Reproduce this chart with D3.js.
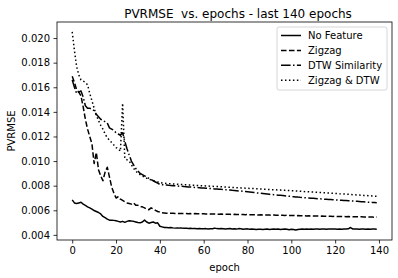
<!DOCTYPE html>
<html>
<head>
<meta charset="utf-8">
<script src="https://cdn.jsdelivr.net/npm/d3@7"></script>
<style>
  body { margin: 0; background: #fff; }
  text { font-family: "DejaVu Sans", sans-serif; fill: #000; }
</style>
</head>
<body>
<div id="chart"></div>
<script>
// values, one per epoch (0..139)
var noFeature = [
	0.00685, 0.0066, 0.00655, 0.0066, 0.00665, 0.0065, 0.0064, 0.00628, 0.0062, 0.0061,
	0.00598, 0.0059, 0.00582, 0.0057, 0.0055, 0.0054, 0.00528, 0.0052, 0.0052, 0.00518,
	0.00515, 0.0051, 0.00505, 0.0051, 0.00502, 0.0051, 0.00515, 0.00512, 0.0051, 0.00505,
	0.005, 0.00498, 0.00505, 0.0052, 0.00505, 0.00495, 0.005, 0.00505, 0.00495, 0.00498,
	0.0047, 0.00465, 0.0046, 0.0046, 0.00458, 0.0046, 0.00457, 0.00455, 0.00457, 0.00455,
	0.00455, 0.00453, 0.00455, 0.00452, 0.00454, 0.00451, 0.00452, 0.0045, 0.00452, 0.0045,
	0.00449, 0.00451, 0.00448, 0.0045, 0.0045, 0.00455, 0.00451, 0.00449, 0.00452, 0.0045,
	0.00447, 0.0045, 0.00452, 0.00448, 0.0045, 0.00447, 0.00451, 0.00449, 0.00446, 0.00448,
	0.00449, 0.00445, 0.00447, 0.00446, 0.00444, 0.00446, 0.00445, 0.00443, 0.00445, 0.00447,
	0.00444, 0.00446, 0.00448, 0.00445, 0.00447, 0.00444, 0.00446, 0.00448, 0.00445, 0.00442,
	0.00446, 0.00444, 0.00439, 0.00444, 0.00446, 0.00447, 0.00446, 0.00448, 0.00446, 0.00447,
	0.00446, 0.00447, 0.00448, 0.00446, 0.00447, 0.00448, 0.00446, 0.00447, 0.00448, 0.00447,
	0.00448, 0.00446, 0.00447, 0.00446, 0.00447, 0.00448, 0.00449, 0.0046, 0.00448, 0.00447,
	0.00447, 0.00446, 0.00447, 0.00448, 0.00446, 0.00447, 0.00446, 0.00447, 0.00447, 0.00446
];
var zigzag = [
	0.0169, 0.0164, 0.0158, 0.0156, 0.0153, 0.0144, 0.0134, 0.0126, 0.012, 0.0114,
	0.0098, 0.0107, 0.0093, 0.0088, 0.0084, 0.0091, 0.0095, 0.0087, 0.0079, 0.0074,
	0.007, 0.0071, 0.0069, 0.0068, 0.0067, 0.0066, 0.00655, 0.0065, 0.0066, 0.0064,
	0.0064, 0.0063, 0.00628, 0.0062, 0.0061, 0.00605, 0.0062, 0.0061, 0.006, 0.0059,
	0.00585, 0.0058, 0.00578, 0.00576, 0.00575, 0.00576, 0.00575, 0.00574, 0.00575, 0.00574,
	0.00573, 0.00574, 0.00573, 0.00572, 0.00573, 0.00572, 0.00573, 0.00572, 0.00571, 0.00572,
	0.00571, 0.0057, 0.00571, 0.0057, 0.00569, 0.0057, 0.00569, 0.00568, 0.00569, 0.00568,
	0.00567, 0.00568, 0.00567, 0.00566, 0.00567, 0.00566, 0.00565, 0.00566, 0.00565, 0.00564,
	0.00565, 0.00564, 0.00563, 0.00564, 0.00563, 0.00562, 0.00563, 0.00562, 0.00561, 0.00562,
	0.00561, 0.0056, 0.00561, 0.0056, 0.00559, 0.0056, 0.00559, 0.00558, 0.00559, 0.00558,
	0.00557, 0.00558, 0.00556, 0.00557, 0.00555, 0.00556, 0.00555, 0.00554, 0.00555, 0.00554,
	0.00553, 0.00554, 0.00553, 0.00552, 0.00553, 0.00552, 0.00551, 0.00552, 0.00551, 0.0055,
	0.00551, 0.0055, 0.00549, 0.0055, 0.00549, 0.00548, 0.00549, 0.00548, 0.00547, 0.00548,
	0.00547, 0.00546, 0.00547, 0.00546, 0.00545, 0.00546, 0.00545, 0.00545, 0.00544, 0.00545
];
var dtwSimilarity = [
	0.0166, 0.016, 0.0155, 0.0156, 0.0157, 0.0152, 0.0145, 0.0143, 0.0143, 0.0142,
	0.0141, 0.0138, 0.0136, 0.0134, 0.0133, 0.0132, 0.0131, 0.0127, 0.0126, 0.0125,
	0.0123, 0.0122, 0.0121, 0.0123, 0.0116, 0.011, 0.0105, 0.01, 0.0097, 0.0094,
	0.0092, 0.009, 0.0089, 0.0088, 0.0087, 0.0086, 0.0085, 0.0084, 0.0083, 0.0082,
	0.0081, 0.00808, 0.00806, 0.00805, 0.00803, 0.00802, 0.008, 0.00799, 0.00797, 0.00796,
	0.00795, 0.00793, 0.00792, 0.0079, 0.00789, 0.00788, 0.00786, 0.00785, 0.00784, 0.00782,
	0.00781, 0.0078, 0.00778, 0.00777, 0.00776, 0.00774, 0.00773, 0.00771, 0.0077, 0.00768,
	0.00767, 0.00765, 0.00764, 0.00762, 0.00761, 0.00759, 0.00757, 0.00756, 0.00754, 0.00752,
	0.0075, 0.00748, 0.00746, 0.00744, 0.00742, 0.0074, 0.00738, 0.00736, 0.00734, 0.00732,
	0.0073, 0.00728, 0.00727, 0.00725, 0.00723, 0.00722, 0.0072, 0.00718, 0.00716, 0.00714,
	0.00712, 0.0071, 0.00708, 0.00707, 0.00705, 0.00704, 0.00702, 0.00701, 0.007, 0.00698,
	0.00697, 0.00696, 0.00694, 0.00693, 0.00692, 0.0069, 0.00689, 0.00688, 0.00687, 0.00686,
	0.00685, 0.00684, 0.00682, 0.00681, 0.0068, 0.00679, 0.00678, 0.00676, 0.00675, 0.00674,
	0.00673, 0.00672, 0.0067, 0.00669, 0.00668, 0.00666, 0.00665, 0.00664, 0.00663, 0.00662
];
var zigzagDtw = [
	0.0205, 0.019, 0.0177, 0.017, 0.0166, 0.0165, 0.0164, 0.0162, 0.0155, 0.0149,
	0.0143, 0.0137, 0.0133, 0.0129, 0.0126, 0.0122, 0.0119, 0.0117, 0.0115, 0.0113,
	0.0111, 0.011, 0.0108, 0.0147, 0.0102, 0.0101, 0.01, 0.0097, 0.0094, 0.0092,
	0.009, 0.0089, 0.0088, 0.0087, 0.0086, 0.0085, 0.00848, 0.0084, 0.00835, 0.0083,
	0.00825, 0.00822, 0.0082, 0.00818, 0.00817, 0.00815, 0.00814, 0.00813, 0.00812, 0.0081,
	0.00809, 0.00808, 0.00807, 0.00806, 0.00805, 0.00804, 0.00803, 0.00802, 0.00801, 0.008,
	0.00799, 0.00798, 0.00797, 0.00796, 0.00795, 0.00794, 0.00793, 0.00792, 0.00791, 0.0079,
	0.00789, 0.00788, 0.00787, 0.00786, 0.00785, 0.00784, 0.00783, 0.00782, 0.00781, 0.0078,
	0.00779, 0.00778, 0.00777, 0.00776, 0.00775, 0.00774, 0.00773, 0.00772, 0.00771, 0.0077,
	0.00769, 0.00768, 0.00767, 0.00766, 0.00765, 0.00764, 0.00763, 0.00762, 0.00761, 0.0076,
	0.00759, 0.00758, 0.00757, 0.00756, 0.00755, 0.00754, 0.00752, 0.00751, 0.0075, 0.00749,
	0.00748, 0.00747, 0.00746, 0.00745, 0.00744, 0.00742, 0.00741, 0.0074, 0.00739, 0.00738,
	0.00737, 0.00736, 0.00734, 0.00733, 0.00732, 0.00731, 0.0073, 0.00728, 0.00727, 0.00726,
	0.00725, 0.00724, 0.00722, 0.00721, 0.0072, 0.00719, 0.00718, 0.00716, 0.00715, 0.00714
];
var seriesNames = ["No Feature", "Zigzag", "DTW Similarity", "Zigzag & DTW"];
var xTicks = [0, 20, 40, 60, 80, 100, 120, 140];
var yTicks = [0.004, 0.006, 0.008, 0.010, 0.012, 0.014, 0.016, 0.018, 0.020];

var chartWidth = 398, chartHeight = 278;
var plotLeft = 57, plotRight = 392, plotTop = 22, plotBottom = 240;
// matplotlib dash patterns at linewidth 1.5
var dashes = ["none", "5.55,2.4", "9.6,2.4,1.5,2.4", "1.5,2.47"];

var allSeries = [noFeature, zigzag, dtwSimilarity, zigzagDtw];

var svg = d3.select("#chart").append("svg")
	.attr("width", chartWidth)
	.attr("height", chartHeight);

// 5% padding like matplotlib autoscale
var n = noFeature.length;
var xPad = (n - 1) * 0.05;
var yMin = d3.min(allSeries, function(s) { return d3.min(s); });
var yMax = d3.max(allSeries, function(s) { return d3.max(s); });
var yPad = (yMax - yMin) * 0.05;

var x = d3.scaleLinear().domain([-xPad, n - 1 + xPad]).range([plotLeft, plotRight]);
var y = d3.scaleLinear().domain([yMin - yPad, yMax + yPad]).range([plotBottom, plotTop]);

var line = d3.line()
	.x(function(d, i) { return x(i); })
	.y(function(d) { return y(d); });

var plot = svg.append("g");

allSeries.forEach(function(s, i) {
	plot.append("path")
		.datum(s)
		.attr("d", line)
		.attr("fill", "none")
		.attr("stroke", "#000")
		.attr("stroke-width", 1.5)
		.attr("stroke-dasharray", dashes[i])
		.attr("stroke-linejoin", "round");
});

// axes
var xAxis = svg.append("g")
	.attr("transform", "translate(0," + plotBottom + ")")
	.call(d3.axisBottom(x).tickValues(xTicks).tickSize(3.5).tickPadding(3.5).tickFormat(d3.format("d")));
var yAxis = svg.append("g")
	.attr("transform", "translate(" + plotLeft + ",0)")
	.call(d3.axisLeft(y).tickValues(yTicks).tickSize(3.5).tickPadding(3.5).tickFormat(d3.format(".3f")));

[xAxis, yAxis].forEach(function(a) {
	a.select(".domain").remove();
	a.selectAll(".tick line").attr("stroke", "#000").attr("stroke-width", 0.8);
	a.selectAll(".tick text").style("font-size", "10px").attr("font-family", null);
});
xAxis.attr("font-family", null);
yAxis.attr("font-family", null);

// frame
svg.append("rect")
	.attr("x", plotLeft)
	.attr("y", plotTop)
	.attr("width", plotRight - plotLeft)
	.attr("height", plotBottom - plotTop)
	.attr("fill", "none")
	.attr("stroke", "#000")
	.attr("stroke-width", 0.8);

// labels
svg.append("text")
	.attr("x", 238)
	.attr("y", 18)
	.attr("text-anchor", "middle")
	.style("font-size", "12px")
	.text("PVRMSE\u00a0 vs. epochs - last 140 epochs");

svg.append("text")
	.attr("x", (plotLeft + plotRight) / 2)
	.attr("y", 271)
	.attr("text-anchor", "middle")
	.style("font-size", "10px")
	.text("epoch");

svg.append("text")
	.attr("transform", "translate(15," + ((plotTop + plotBottom) / 2) + ") rotate(-90)")
	.attr("text-anchor", "middle")
	.style("font-size", "10px")
	.text("PVRMSE");

// legend
var legend = svg.append("g");
legend.append("rect")
	.attr("x", 277)
	.attr("y", 27)
	.attr("width", 110)
	.attr("height", 63)
	.attr("rx", 2)
	.attr("fill", "#fff")
	.attr("fill-opacity", 0.8)
	.attr("stroke", "#ccc")
	.attr("stroke-width", 0.8);

seriesNames.forEach(function(name, i) {
	var ly = 35.5 + i * 14.9;
	legend.append("line")
		.attr("x1", 281)
		.attr("x2", 301)
		.attr("y1", ly)
		.attr("y2", ly)
		.attr("stroke", "#000")
		.attr("stroke-width", 1.5)
		.attr("stroke-dasharray", dashes[i]);
	legend.append("text")
		.attr("x", 308)
		.attr("y", ly + 3.6)
		.style("font-size", "10px")
		.text(name);
});
</script>
</body>
</html>
